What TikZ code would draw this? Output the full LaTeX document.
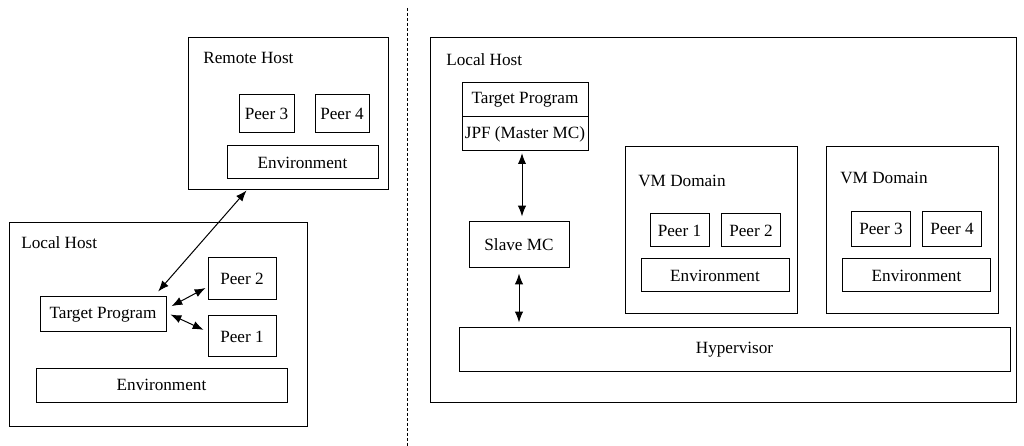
\documentclass[tikz,border=0pt]{standalone}
\usepackage{fontspec}
\setmainfont{Liberation Serif}
\usepackage{tikz}
\usetikzlibrary{calc,positioning,arrows.meta,shapes}

\tikzset{
  box/.style={draw, line width=0.6pt, inner sep=0pt, align=center},
  hostlabel/.style={anchor=west, inner sep=0pt},
  link/.style={<->, >={Latex[length=6.5pt,width=5pt]}, line width=0.6pt}
}

\begin{document}
\begin{tikzpicture}[x=0.6pt, y=-0.6pt, every node/.style={font=\fontsize{10.3pt}{12pt}\selectfont}]
			\useasboundingbox (0,0) rectangle (1024,446);

			% left: remote host
			\node[box, minimum width=120pt, minimum height=91.2pt] (remote) at (288,114) {};
				\node[hostlabel] (remotelbl) at (203,58) {Remote Host};
				\node[box, minimum width=33pt, minimum height=22.8pt] (rpeer3) at (266.5,114) {Peer 3};
				\node[box, minimum width=32.4pt, minimum height=22.8pt] (rpeer4) at (342,114) {Peer 4};
				\node[box, minimum width=90.6pt, minimum height=19.8pt] (renv) at (302.5,162.5) {Environment};

			% left: local host
			\node[box, minimum width=178.8pt, minimum height=121.8pt] (local) at (158,324.5) {};
				\node[hostlabel] (locallbl) at (21,243) {Local Host};
				\node[box, minimum width=40.8pt, minimum height=25.2pt] (lpeer2) at (242,279) {Peer 2};
				\node[box, minimum width=40.8pt, minimum height=24.6pt] (lpeer1) at (242,336.5) {Peer 1};
				\node[box, minimum width=75.6pt, minimum height=21pt] (ltarget) at (103,314.5) {Target Program};
				\node[box, minimum width=150.6pt, minimum height=20.4pt] (lenv) at (161.5,385) {Environment};

			\draw[link] ([xshift=-5pt,yshift=3pt]ltarget.north east) -- ([xshift=35.4pt]remote.south west);
			\draw[link] ([xshift=3pt,yshift=5pt]ltarget.east) -- ([xshift=-1.2pt,yshift=-5.4pt]lpeer2.west);
			\draw[link] ([xshift=2.4pt,yshift=0pt]ltarget.east) -- ([xshift=-2.4pt,yshift=4pt]lpeer1.west);

			% separator
			\coordinate (septop) at (407,8);
			\coordinate (sepbot) at (407,446);
			\draw[dashed, line width=0.6pt, dash pattern=on 2pt off 1pt] (septop) -- (sepbot);

			% right: local host with hypervisor
			\node[box, minimum width=351.6pt, minimum height=219pt] (host) at (723,220.5) {};
				\node[hostlabel] (hostlbl) at (446,60) {Local Host};
				\node[box, minimum width=75.6pt, minimum height=20.4pt] (target) at (525,100) {Target Program};
				\node[box, minimum width=75.6pt, minimum height=20.4pt] (jpf) at (525,134) {JPF (Master MC)};
				\node[box, minimum width=60pt, minimum height=27.6pt] (slave) at (519,245) {Slave MC};
				\node[box, minimum width=330.6pt, minimum height=25.8pt] (hyper) at (734.5,349.5) {Hypervisor};

				\node[box, minimum width=103.2pt, minimum height=100.2pt] (vma) at (711,230.5) {};
					\node[hostlabel] (vmalbl) at (638,181) {VM Domain};
					\node[box, minimum width=35.4pt, minimum height=19.8pt] (vpeer1) at (679.5,230.5) {Peer 1};
					\node[box, minimum width=35.4pt, minimum height=19.8pt] (vpeer2) at (751,230.5) {Peer 2};
					\node[box, minimum width=88.8pt, minimum height=19.8pt] (venva) at (715,275.5) {Environment};

				\node[box, minimum width=103.2pt, minimum height=100.2pt] (vmb) at (912,230.5) {};
					\node[hostlabel] (vmblbl) at (840,178) {VM Domain};
					\node[box, minimum width=35.4pt, minimum height=21pt] (vpeer3) at (881,229) {Peer 3};
					\node[box, minimum width=35.4pt, minimum height=21pt] (vpeer4) at (952,229) {Peer 4};
					\node[box, minimum width=88.8pt, minimum height=19.8pt] (venvb) at (916.5,275.5) {Environment};

			\draw[link, shorten <=1pt, shorten >=3pt] ([xshift=-1.8pt]jpf.south) -- ([xshift=-1.8pt]jpf.south |- slave.north);
			\draw[link, shorten <=3pt, shorten >=3pt] (slave.south) -- (slave.south |- hyper.north);

		\end{tikzpicture}
\end{document}
